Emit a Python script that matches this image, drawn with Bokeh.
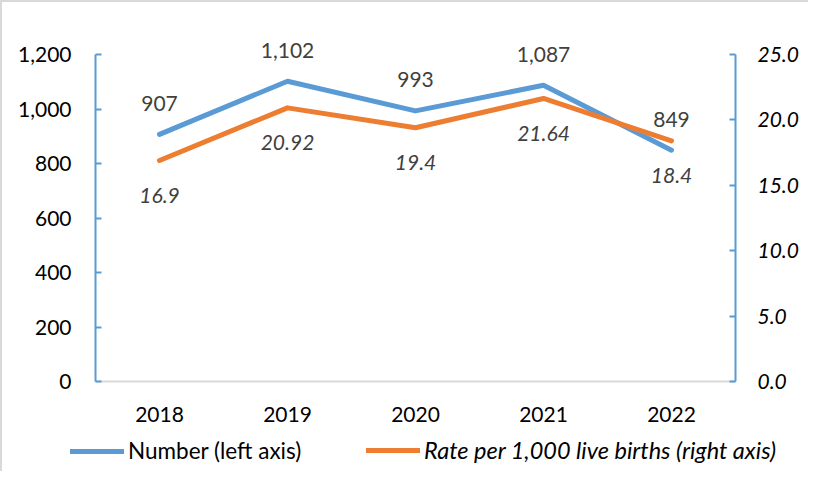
from bokeh.plotting import figure
from bokeh.layouts import column
from bokeh.models import (Range1d, FactorRange, LinearAxis, NumeralTickFormatter,
                          Legend, LegendItem, ColumnDataSource)
from bokeh.core.properties import value
from bokeh.embed import file_html
from bokeh.resources import INLINE

years = ["2018", "2019", "2020", "2021", "2022"]
numbers = [907, 1102, 993, 1087, 849]
rates = [16.9, 20.92, 19.4, 21.64, 18.4]
number_labels = ["907", "1,102", "993", "1,087", "849"]
rate_labels = ["16.9", "20.92", "19.4", "21.64", "18.4"]
number_ticks = [0, 200, 400, 600, 800, 1000, 1200]
rate_ticks = [0, 5, 10, 15, 20, 25]

FONT = "Lato"
BLUE = "#5B9BD5"
ORANGE = "#ED7D31"
FS = "21px"

FRAME_H = 327      # height of the 0..1200 axis span in px
EXTRA_TOP = 40     # room above the axis top for data labels
N_MAX, R_MAX = 1200, 25
scale = (FRAME_H + EXTRA_TOP) / FRAME_H

p = figure(width=806, height=429, x_range=FactorRange(factors=years),
           y_range=Range1d(0, N_MAX * scale), output_backend="svg", toolbar_location=None,
           min_border_left=93, min_border_right=73, min_border_top=12, min_border_bottom=50)
p.extra_y_ranges = {"rate": Range1d(0, R_MAX * scale)}
p.outline_line_color = None
p.grid.visible = False
p.frame_align = False

src = ColumnDataSource(dict(x=years, n=numbers, r=rates, nl=number_labels, rl=rate_labels))

r_num = p.line("x", "n", source=src, line_color=BLUE, line_width=5, line_cap="round", line_join="round")
r_rate = p.line("x", "r", source=src, line_color=ORANGE, line_width=5, line_cap="round",
                line_join="round", y_range_name="rate")

p.text("x", "n", text="nl", source=src, text_align="center", text_baseline="middle",
       y_offset=-31, text_font=value(FONT), text_font_size=FS, text_color="#404040")
p.text("x", "r", text="rl", source=src, text_align="center", text_baseline="middle",
       y_offset=35, y_range_name="rate", text_font=value(FONT), text_font_size=FS,
       text_font_style="italic", text_color="#404040")

def style_y(ax):
    ax.axis_line_color = BLUE
    ax.axis_line_width = 2
    ax.major_tick_line_color = BLUE
    ax.major_tick_line_width = 2
    ax.major_tick_in = 6
    ax.major_tick_out = 0
    ax.minor_tick_line_color = None
    ax.major_label_text_font = FONT
    ax.major_label_text_font_size = FS
    ax.major_label_text_color = "#000000"

la = p.yaxis[0]
la.formatter = NumeralTickFormatter(format="0,0")
la.ticker = number_ticks
la.bounds = (0, N_MAX)
style_y(la)
la.major_label_standoff = 24

ra = LinearAxis(y_range_name="rate", ticker=rate_ticks,
                formatter=NumeralTickFormatter(format="0.0"), bounds=(0, R_MAX))
style_y(ra)
ra.major_label_text_font_style = "italic"
ra.major_label_standoff = 22
p.add_layout(ra, "right")

xa = p.xaxis[0]
xa.axis_line_color = "#d9d9d9"
xa.axis_line_width = 2
xa.major_tick_line_color = None
xa.minor_tick_line_color = None
xa.major_label_text_font = FONT
xa.major_label_text_font_size = FS
xa.major_label_text_color = "#000000"
xa.major_label_standoff = 19

# legend strip: the series are drawn again here but fall outside its visible y range
lg_fig = figure(width=806, height=40, x_range=FactorRange(factors=years),
                y_range=Range1d(5000, 6000),
                output_backend="svg", toolbar_location=None,
                min_border_left=0, min_border_right=0, min_border_top=0, min_border_bottom=0)
lg_fig.frame_align = False
lg_fig.axis.visible = False
lg_fig.grid.visible = False
lg_fig.outline_line_color = None
d_num = lg_fig.line("x", "n", source=src, line_color=BLUE, line_width=5, line_cap="round")
d_rate = lg_fig.line("x", "r", source=src, line_color=ORANGE, line_width=5, line_cap="round")

def mk_legend(item, loc, italic, size):
    lg = Legend(items=[item], location=loc, orientation="horizontal",
                glyph_width=54, glyph_height=20, label_standoff=4, padding=0, margin=0,
                border_line_color=None, background_fill_alpha=0,
                label_text_font=FONT, label_text_font_size=size, label_text_color="#000000",
                label_text_font_style="italic" if italic else "normal")
    lg_fig.add_layout(lg, "center")

mk_legend(LegendItem(label="Number (left axis)", renderers=[d_num]), (68, 7), False, "22.5px")
mk_legend(LegendItem(label="Rate per 1,000 live births (right axis)", renderers=[d_rate]), (364, 7), True, "23.5px")

layout = column(p, lg_fig, spacing=0,
                styles={"border-top": "2px solid #d9d9d9", "border-left": "2px solid #d9d9d9"})

open("out.html", "w").write(file_html(layout, INLINE))
